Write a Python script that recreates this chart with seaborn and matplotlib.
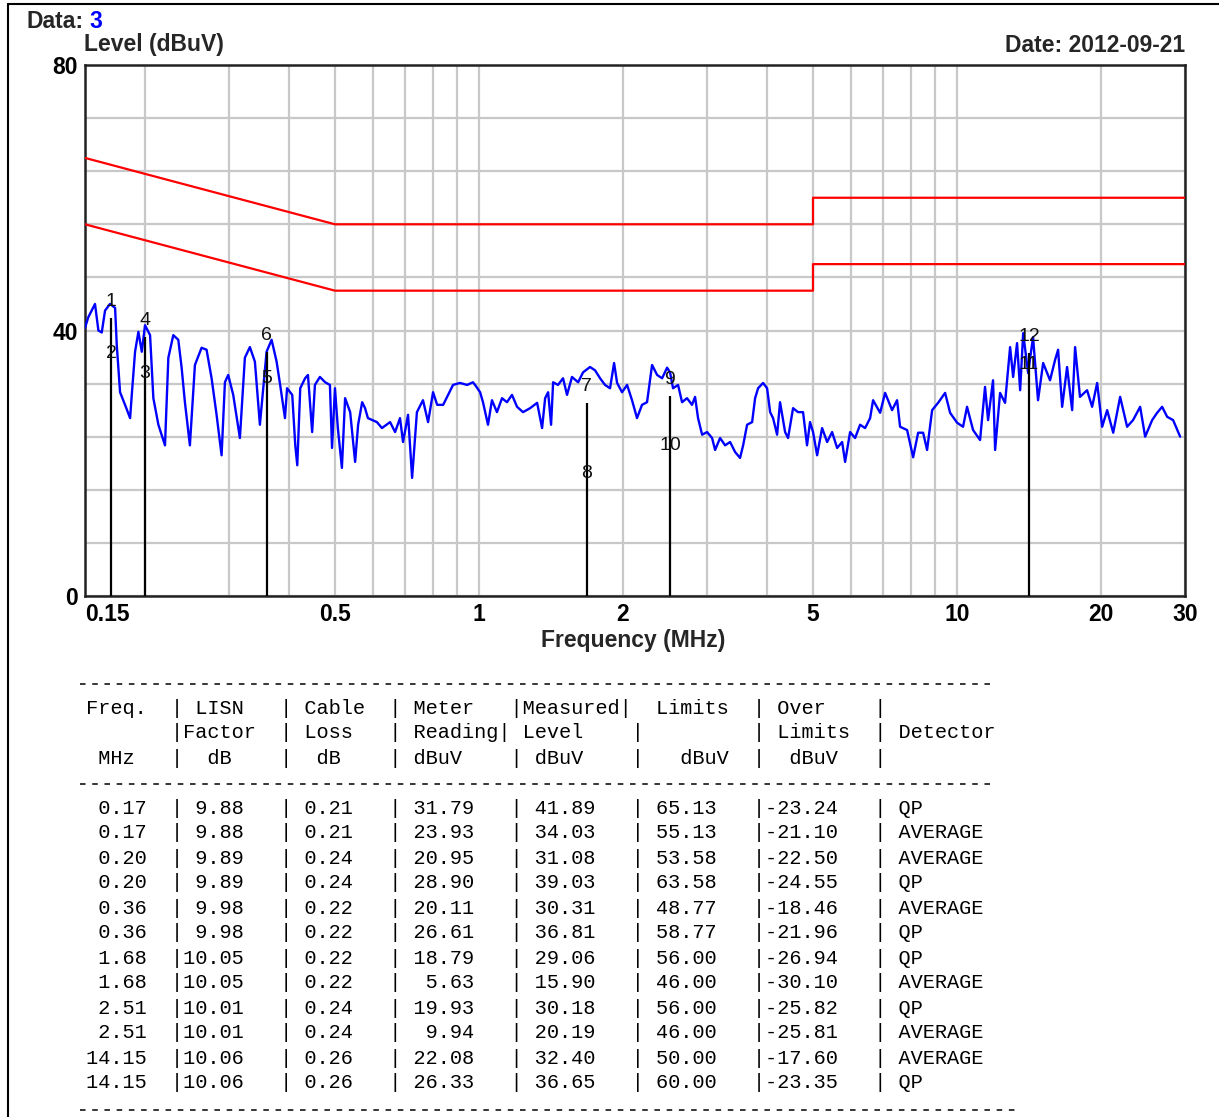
import matplotlib
matplotlib.use("Agg")
import matplotlib.pyplot as plt
from matplotlib.ticker import FixedLocator, NullFormatter
from matplotlib.lines import Line2D
import pandas as pd
import seaborn as sns

# scan trace (MHz, dBuV)
trace_freq = [
    0.150, 0.1524, 0.1574, 0.1600, 0.1626, 0.1652, 0.1692, 0.1734, 0.1748, 0.1776,
    0.1819, 0.1864, 0.1879, 0.1909, 0.1940, 0.1972, 0.2003, 0.2052, 0.2085, 0.2136,
    0.2205, 0.2241, 0.2295, 0.2351, 0.2389, 0.2427, 0.2486, 0.2547, 0.2630, 0.2694,
    0.2760, 0.2827, 0.2896, 0.2943, 0.2990, 0.3063, 0.3163, 0.3240, 0.3319, 0.3400,
    0.3483, 0.3597, 0.3685, 0.3775,
    0.384, 0.393, 0.397, 0.407, 0.413, 0.417, 0.423, 0.433, 0.439, 0.448,
    0.454, 0.465, 0.477, 0.488, 0.493, 0.500, 0.507, 0.517, 0.525, 0.538,
    0.551, 0.559, 0.570, 0.578, 0.586, 0.612, 0.627, 0.652, 0.668, 0.684,
    0.694, 0.711, 0.725, 0.742, 0.764, 0.783, 0.802, 0.818, 0.842, 0.862,
    0.883, 0.913, 0.945, 0.972,
    0.982, 1.006, 1.020, 1.045, 1.065, 1.091, 1.118, 1.145, 1.173, 1.202,
    1.237, 1.280, 1.324, 1.356, 1.376, 1.396, 1.416, 1.430, 1.464, 1.500,
    1.529, 1.566, 1.613, 1.652, 1.708, 1.750, 1.793, 1.836, 1.881, 1.918,
    1.946, 1.993, 2.042, 2.091, 2.142, 2.194, 2.248, 2.303, 2.360, 2.417,
    2.476,
    2.511, 2.548, 2.610, 2.661, 2.725, 2.792, 2.833, 2.874, 2.931, 3.002,
    3.075, 3.120, 3.196, 3.274, 3.354, 3.435, 3.519, 3.571, 3.640, 3.729,
    3.783, 3.838, 3.931, 4.008, 4.067, 4.125, 4.206, 4.266, 4.371, 4.434,
    4.542, 4.652, 4.766, 4.858, 4.929, 5.001, 5.100, 5.224, 5.352, 5.482,
    5.616, 5.753, 5.836, 5.978, 6.124, 6.273, 6.426, 6.583,
    6.678, 6.908, 7.076, 7.318, 7.496, 7.605, 7.867, 8.099, 8.296, 8.498,
    8.662, 8.874, 9.133, 9.447, 9.677, 10.01, 10.30, 10.50, 10.81, 11.18,
    11.45, 11.62, 11.90, 12.02, 12.31, 12.61, 12.92, 13.11, 13.36, 13.56,
    13.76, 14.09, 14.43, 14.78, 15.15, 15.66, 16.05, 16.28, 16.60, 17.00,
    17.42, 17.67, 18.09, 18.72, 19.18, 19.65, 20.13, 20.62, 21.23, 21.95,
    22.70, 23.36, 24.17, 24.76, 25.61, 26.23, 26.87, 27.53, 28.33, 29.31,
]
trace_level = [
    40.4, 42.0, 44.0, 40.0, 39.7, 43.0, 44.0, 43.4, 37.8, 30.7,
    28.8, 26.8, 30.3, 36.8, 39.8, 36.8, 40.8, 39.3, 29.8, 25.8,
    22.7, 35.9, 39.3, 38.6, 34.4, 29.2, 22.7, 34.8, 37.4, 37.1,
    32.8, 27.3, 21.2, 32.2, 33.3, 30.3, 23.8, 35.9, 37.5, 35.3,
    25.8, 36.8, 38.6, 35.3,
    31.8, 26.8, 31.3, 30.3, 22.7, 19.7, 31.3, 32.8, 33.3, 24.7,
    31.8, 33.0, 32.2, 31.8, 22.3, 31.3, 25.3, 19.3, 29.8, 27.7,
    20.2, 25.8, 29.2, 28.3, 26.8, 26.2, 25.3, 26.2, 24.7, 26.8,
    23.2, 27.3, 17.8, 27.7, 29.5, 26.2, 30.7, 28.8, 28.8, 30.3,
    31.8, 32.1, 31.8, 32.2,
    31.8, 30.7, 29.2, 25.8, 29.5, 27.7, 29.8, 29.2, 30.3, 28.5,
    27.7, 28.3, 29.1, 25.3, 29.8, 30.7, 25.8, 32.2, 31.8, 32.8,
    30.3, 33.0, 32.2, 33.7, 34.5, 34.0, 32.8, 31.8, 31.3, 35.1,
    32.1, 30.7, 31.8, 29.5, 26.8, 28.8, 29.2, 34.8, 33.3, 32.8,
    34.4,
    33.7, 31.3, 31.8, 29.2, 29.8, 28.8, 30.0, 26.8, 24.3, 24.7,
    23.8, 22.0, 23.8, 22.7, 23.2, 21.7, 20.8, 22.7, 25.8, 26.2,
    29.8, 31.3, 32.1, 31.3, 27.7, 26.8, 24.3, 29.2, 24.7, 23.8,
    28.3, 27.7, 27.7, 22.7, 26.2, 24.7, 21.2, 25.3, 23.2, 24.7,
    22.3, 23.2, 20.2, 24.7, 23.8, 25.8, 25.3, 26.8,
    29.5, 27.6, 30.6, 28.0, 29.5, 25.5, 25.0, 20.9, 24.6, 24.6,
    22.0, 28.0, 29.1, 30.6, 27.6, 26.1, 25.5, 28.5, 25.0, 23.5,
    31.5, 26.5, 32.5, 22.0, 30.6, 29.1, 37.5, 33.0, 38.1, 31.0,
    39.6, 33.6, 39.0, 29.5, 35.1, 32.5, 35.6, 37.1, 28.5, 34.5,
    28.0, 37.5, 30.0, 31.0, 28.5, 32.1, 25.5, 28.0, 24.6, 30.0,
    25.5, 26.5, 28.5, 24.0, 26.5, 27.6, 28.5, 27.0, 26.5, 24.0,
]

# limit lines
limit_freq = [0.15, 0.5, 0.5, 5, 5, 30]
qp_limit = [66, 56, 56, 56, 60, 60]
avg_limit = [56, 46, 46, 46, 50, 50]

# final measurement table
m_freq = [0.17, 0.17, 0.20, 0.20, 0.36, 0.36, 1.68, 1.68, 2.51, 2.51, 14.15, 14.15]
m_lisn = [9.88, 9.88, 9.89, 9.89, 9.98, 9.98, 10.05, 10.05, 10.01, 10.01, 10.06, 10.06]
m_cable = [0.21, 0.21, 0.24, 0.24, 0.22, 0.22, 0.22, 0.22, 0.24, 0.24, 0.26, 0.26]
m_meter = [31.79, 23.93, 20.95, 28.90, 20.11, 26.61, 18.79, 5.63, 19.93, 9.94, 22.08, 26.33]
m_level = [41.89, 34.03, 31.08, 39.03, 30.31, 36.81, 29.06, 15.90, 30.18, 20.19, 32.40, 36.65]
m_limit = [65.13, 55.13, 53.58, 63.58, 48.77, 58.77, 56.00, 46.00, 56.00, 46.00, 50.00, 60.00]
m_over = [-23.24, -21.10, -22.50, -24.55, -18.46, -21.96, -26.94, -30.10, -25.82, -25.81, -17.60, -23.35]
m_det = ["QP", "AVERAGE", "AVERAGE", "QP", "AVERAGE", "QP", "QP", "AVERAGE", "QP", "AVERAGE", "AVERAGE", "QP"]
m_label = ["1", "2", "3", "4", "5", "6", "7", "8", "9", "10", "11", "12"]

x_ticks = [0.15, 0.5, 1, 2, 5, 10, 20, 30]
x_labels = ["0.15", "0.5", "1", "2", "5", "10", "20", "30"]
x_grid = [0.2, 0.3, 0.4, 0.6, 0.7, 0.8, 0.9, 3, 4, 6, 7, 8, 9]
y_ticks = [0, 40, 80]
y_grid = [8, 16, 24, 32, 48, 56, 64, 72]

sns.set_theme(style="white")
plt.rcParams["font.family"] = ["Liberation Sans", "DejaVu Sans"]
plt.rcParams["lines.scale_dashes"] = False

W, H = 1219, 1117
fig = plt.figure(figsize=(W / 100, H / 100), dpi=100)
ax = fig.add_axes([85 / W, 1 - 596 / H, 1100 / W, 531 / H])

trace = pd.DataFrame({"freq": trace_freq, "level": trace_level})
sns.lineplot(data=trace, x="freq", y="level", ax=ax, color="#0000ff", lw=1.7,
             sort=False, estimator=None, zorder=3)
sns.lineplot(x=limit_freq, y=qp_limit, ax=ax, color="#ff0000", lw=1.6,
             sort=False, estimator=None, zorder=3)
sns.lineplot(x=limit_freq, y=avg_limit, ax=ax, color="#ff0000", lw=1.6,
             sort=False, estimator=None, zorder=3)

# marker lines go up to the higher reading of each pair
tops = {}
for f, lv in zip(m_freq, m_level):
    tops[f] = max(tops.get(f, 0), lv)
ax.vlines(list(tops.keys()), 0, list(tops.values()), color="black", lw=1.6, zorder=4)
for f, lv, lab in zip(m_freq, m_level, m_label):
    ax.annotate(lab, (f, lv), xytext=(0, 12), textcoords="offset points",
                ha="center", va="center", fontsize=14, color="#111111", zorder=5)

bold = dict(fontsize=16.5, fontweight="bold")
ax.set_xscale("log")
ax.set_xlim(0.15, 30)
ax.set_ylim(0, 80)
ax.xaxis.set_major_locator(FixedLocator(x_ticks))
ax.xaxis.set_minor_locator(FixedLocator(x_grid))
ax.xaxis.set_minor_formatter(NullFormatter())
ax.set_xticklabels(x_labels, **bold)
ax.get_xticklabels()[0].set_horizontalalignment("left")
ax.yaxis.set_major_locator(FixedLocator(y_ticks))
ax.yaxis.set_minor_locator(FixedLocator(y_grid))
ax.set_yticklabels([str(v) for v in y_ticks], **bold)
ax.tick_params(which="both", length=0, pad=5, colors="black")
ax.grid(which="both", color="#c8c8c8", lw=1.6)
ax.set_axisbelow(True)
ax.set_xlabel("")
ax.set_ylabel("")
for sp in ax.spines.values():
    sp.set_color("#222222")
    sp.set_linewidth(1.8)

fy = lambda y: 1 - y / H
fig.text(27 / W, fy(22), "Data:", va="center", **bold)
fig.text(89 / W, fy(22), "3", va="center", color="#0000ff", **bold)
fig.text(84 / W, fy(45), "Level (dBuV)", va="center", **bold)
fig.text(1185 / W, fy(45), "Date: 2012-09-21", va="center", ha="right", **bold)
fig.text(633 / W, fy(640), "Frequency (MHz)", va="center", ha="center", **bold)

# outer frame (left and top)
fig.add_artist(Line2D([8 / W, 8 / W], [0, fy(4)], transform=fig.transFigure,
                      color="black", lw=1.5))
fig.add_artist(Line2D([8 / W, 1], [fy(4), fy(4)], transform=fig.transFigure,
                      color="black", lw=1.5))


def dash_rule(y, x_end):
    fig.add_artist(Line2D([80 / W, x_end / W], [fy(y), fy(y)], transform=fig.transFigure,
                          color="black", lw=1.1, linestyle=(0, (4.0, 4.8))))


# measurement table in fixed-width text
mono = dict(family="Liberation Mono", fontsize=14.6, va="center", ha="left", color="black")
x0 = 74 / W
header = [
    " Freq.  | LISN   | Cable  | Meter   |Measured|  Limits  | Over    |",
    "        |Factor  | Loss   | Reading| Level    |         | Limits  | Detector",
    "  MHz   |  dB    |  dB    | dBuV    | dBuV    |   dBuV  |  dBuV   |",
]
dash_rule(684, 995)
for i, line in enumerate(header):
    fig.text(x0, fy(708 + 25 * i), line, **mono)
dash_rule(784, 995)
for i in range(len(m_freq)):
    row = (f" {m_freq[i]:5.2f}  |{m_lisn[i]:5.2f}   |{m_cable[i]:5.2f}   |"
           f"{m_meter[i]:6.2f}   |{m_level[i]:6.2f}   |{m_limit[i]:6.2f}   |"
           f"{m_over[i]:6.2f}   | {m_det[i]}")
    fig.text(x0, fy(808 + 25 * i), row, **mono)
dash_rule(1110, 1020)

fig.savefig("out.png", dpi=100)
